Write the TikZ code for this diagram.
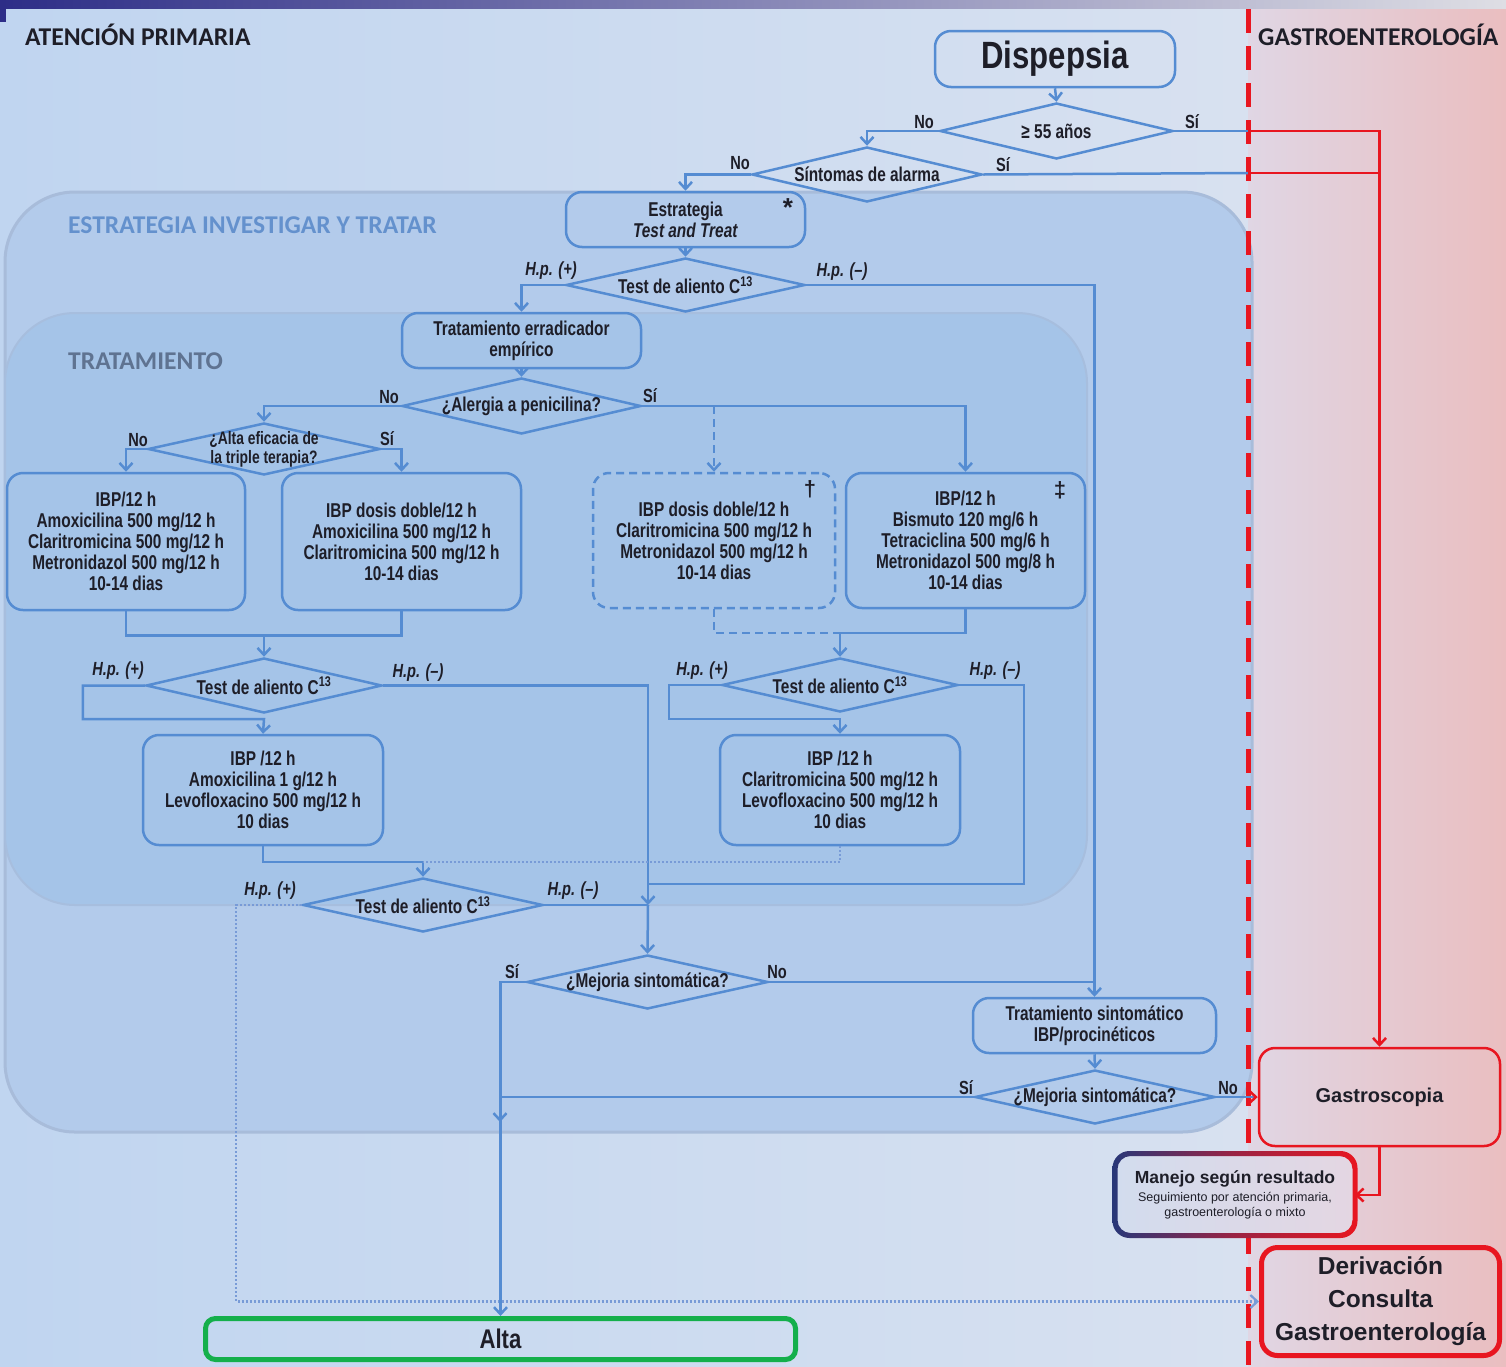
\documentclass[tikz,border=0pt]{standalone}
\usepackage{fontspec}
\setmainfont{Liberation Sans}
\newfontfamily\nar[FakeStretch=0.77]{Liberation Sans}
\newfontfamily\narB[FakeStretch=0.82]{Liberation Sans}
\newfontfamily\carl{Carlito}
\usetikzlibrary{shapes.geometric,arrows.meta}
\definecolor{ln}{RGB}{85,140,210}
\definecolor{lnd}{RGB}{120,155,215}
\definecolor{bgA}{RGB}{192,213,240}
\definecolor{bgB}{RGB}{216,225,240}
\definecolor{bgC}{RGB}{224,214,228}
\definecolor{bgD}{RGB}{234,190,192}
\definecolor{regA}{RGB}{179,203,235}
\definecolor{regE}{RGB}{168,188,218}
\definecolor{regB}{RGB}{165,196,232}
\definecolor{rd}{RGB}{232,22,32}
\definecolor{gr}{RGB}{20,175,75}
\definecolor{navy}{RGB}{40,55,120}
\definecolor{txt}{RGB}{30,30,40}
\definecolor{topA}{RGB}{45,45,135}
\definecolor{topB}{RGB}{222,222,228}
\definecolor{sec}{RGB}{100,145,205}
\definecolor{secb}{RGB}{95,115,145}
\definecolor{manL}{RGB}{210,220,238}
\definecolor{manR}{RGB}{228,214,226}
\begin{document}
\begin{tikzpicture}[x=1pt,y=-1pt,
  box/.style={draw=ln, line width=2.5pt, rounded corners=16pt, align=center,
    font=\nar\bfseries\fontsize{20}{21}\selectfont, text=txt, inner sep=0pt},
  dia/.style={diamond, draw=ln, line width=2.5pt, inner sep=0pt},
  dtxt/.style={font=\nar\bfseries\fontsize{20}{21}\selectfont, text=txt, align=center},
  lab/.style={font=\nar\bfseries\fontsize{19}{20}\selectfont, text=txt, inner sep=0pt},
  hp/.style={font=\nar\bfseries\itshape\fontsize{19}{20}\selectfont, text=txt, inner sep=0pt},
  tip/.tip={Straight Barb[length=7pt,width=13pt]},
  plain/.style={draw=ln, line width=2.5pt},
  conn/.style={draw=ln, line width=2.5pt, -tip},
  rplain/.style={draw=rd, line width=2.5pt},
  rconn/.style={draw=rd, line width=2.5pt, -tip},
  dotl/.style={draw=lnd, line width=2.2pt, dash pattern=on 2pt off 2pt},
  seclab/.style={font=\carl\bfseries\fontsize{25.6}{27}\selectfont, anchor=west, inner sep=0pt}
]
\useasboundingbox (0,0) rectangle (1506,1366);
% background
\shade[left color=bgA, right color=bgB] (0,0) rectangle (1248,1366);
\shade[left color=bgC, right color=bgD] (1248,0) rectangle (1506,1366);
\shade[left color=topA, right color=topB] (0,0) rectangle (1506,8);
\fill[topA] (0,0) rectangle (6,22);
% regions
\draw[draw=regE, line width=3pt, fill=regA, rounded corners=70pt] (5,192) rectangle (1252,1132);
\draw[draw=regE!70!regB, line width=2pt, fill=regB, rounded corners=70pt] (5,313) rectangle (1087,905);
% section labels
\node[seclab, text=txt] (lap) at (25,35) {ATENCIÓN PRIMARIA};
\node[seclab, text=txt] (lgas) at (1258,35) {GASTROENTEROLOGÍA};
\node[seclab, text=sec] (lest) at (68,225) {ESTRATEGIA INVESTIGAR Y TRATAR};
\node[seclab, text=secb] (ltra) at (68,361) {TRATAMIENTO};
% red dashed separator
\coordinate (sepT) at (1248,9);
\coordinate (sepB) at (1248,1366);
\draw[rd, line width=5pt, dash pattern=on 24pt off 13pt] (sepT) -- (sepB);

% boxes
\node[box, minimum width=240, minimum height=56, font=\narB\bfseries\fontsize{38}{40}\selectfont] (dis) at (1055,59) {Dispepsia};
\node[box, minimum width=239, minimum height=55] (est) at (685.5,219.5) {Estrategia\\\textit{Test and Treat}};
\node[font=\bfseries\fontsize{26}{26}\selectfont, text=txt, inner sep=0pt] (ast) at (788,208) {*};
\node[box, minimum width=239, minimum height=55] (ter) at (521.5,340.5) {Tratamiento erradicador\\empírico};
\node[box, minimum width=238, minimum height=137] (b1) at (126,541.5) {IBP/12 h\\Amoxicilina 500 mg/12 h\\Claritromicina 500 mg/12 h\\Metronidazol 500 mg/12 h\\10-14 dias};
\node[box, minimum width=239, minimum height=137] (b2) at (401.5,541.5) {IBP dosis doble/12 h\\Amoxicilina 500 mg/12 h\\Claritromicina 500 mg/12 h\\10-14 dias};
\node[box, dash pattern=on 8pt off 5pt, minimum width=242, minimum height=135] (b3) at (714,540.5) {IBP dosis doble/12 h\\Claritromicina 500 mg/12 h\\Metronidazol 500 mg/12 h\\10-14 dias};
\node[font=\bfseries\fontsize{22}{22}\selectfont, text=txt, inner sep=0pt] (dag) at (810,489) {†};
\node[box, minimum width=239, minimum height=135] (b4) at (965.5,540.5) {IBP/12 h\\Bismuto 120 mg/6 h\\Tetraciclina 500 mg/6 h\\Metronidazol 500 mg/8 h\\10-14 dias};
\node[font=\bfseries\fontsize{22}{22}\selectfont, text=txt, inner sep=0pt] (ddag) at (1060,490) {‡};
\node[box, minimum width=240, minimum height=110] (b5) at (263,790) {IBP /12 h\\Amoxicilina 1 g/12 h\\Levofloxacino 500 mg/12 h\\10 dias};
\node[box, minimum width=240, minimum height=110] (b6) at (840,790) {IBP /12 h\\Claritromicina 500 mg/12 h\\Levofloxacino 500 mg/12 h\\10 dias};
\node[box, minimum width=243, minimum height=55] (sin) at (1094.5,1025.5) {Tratamiento sintomático\\IBP/procinéticos};
\node[box, draw=rd, minimum width=241, minimum height=98, font=\bfseries\fontsize{20}{23}\selectfont] (gas) at (1379.5,1097) {Gastroscopia};
\node[box, draw=rd, line width=5pt, minimum width=238, minimum height=108, font=\bfseries\fontsize{24.5}{33}\selectfont] (der) at (1380.5,1301.5) {Derivación\\Consulta\\Gastroenterología};
\node[box, draw=gr, line width=5pt, rounded corners=10pt, minimum width=590, minimum height=41, font=\narB\bfseries\fontsize{27}{28}\selectfont] (alta) at (500.5,1339) {Alta};
% Manejo box with gradient border and fill
\shade[left color=manL, right color=manR, rounded corners=14pt] (1115,1153.5) rectangle (1355,1235.5);
\path[left color=navy, right color=rd, middle color=rd!60!navy, even odd rule]
  [rounded corners=17pt] (1112.5,1151) rectangle (1357.5,1238)
  [rounded corners=13pt] (1117.5,1156) rectangle (1352.5,1233);
\node[align=center, inner sep=0pt, minimum width=239, minimum height=82, text=txt,
  font=\fontsize{12.5}{15.5}\selectfont] (man) at (1235,1195)
  {{\bfseries\fontsize{17.5}{20}\selectfont Manejo según resultado}\\[2pt]
   Seguimiento por atención primaria,\\
   gastroenterología o mixto};

% diamonds
\node[dia, minimum width=233, minimum height=56, label={[dtxt]center:≥ 55 años}] (d55) at (1056.5,131) {};
\node[dia, minimum width=230, minimum height=55, label={[dtxt]center:Síntomas de alarma}] (dsa) at (867,174.5) {};
\node[dia, minimum width=239, minimum height=54, label={[dtxt]center:Test de aliento C\textsuperscript{13}}] (t1) at (685.5,285) {};
\node[dia, minimum width=239, minimum height=56, label={[dtxt]center:¿Alergia a penicilina?}] (ale) at (521.5,406) {};
\node[dia, minimum width=232, minimum height=52, label={[dtxt, font=\nar\bfseries\fontsize{18}{19}\selectfont]center:¿Alta eficacia de\\la triple terapia?}] (efi) at (264,449) {};
\node[dia, minimum width=236, minimum height=55, label={[dtxt]center:Test de aliento C\textsuperscript{13}}] (tl) at (264,685.5) {};
\node[dia, minimum width=236, minimum height=54, label={[dtxt]center:Test de aliento C\textsuperscript{13}}] (tr) at (840,685) {};
\node[dia, minimum width=240, minimum height=54, label={[dtxt]center:Test de aliento C\textsuperscript{13}}] (tb) at (423,905) {};
\node[dia, minimum width=241, minimum height=54, label={[dtxt]center:¿Mejoria sintomática?}] (m1) at (647.5,982) {};
\node[dia, minimum width=240, minimum height=54, label={[dtxt]center:¿Mejoria sintomática?}] (m2) at (1095,1097) {};

% coordinates
\coordinate (r1) at (1248,131);
\coordinate (r2) at (1248,173);
\coordinate (r2e) at (1380,173);
\coordinate (ad) at (714,406);
\coordinate (j1) at (264,634);
\coordinate (j2) at (840,633);
\coordinate (j3) at (648,905);
\coordinate (j4) at (648,884);
\coordinate (j5) at (423,862);
\coordinate (j6) at (1095,982);
\coordinate (j7) at (500,1097);
\coordinate (j7e) at (500,1122);

% connectors
\draw[conn] (dis.south) -- (d55.north);
\draw[conn] (d55.west) -| (dsa.north);
\draw[plain] (d55.east) -- (r1);
\draw[rconn] (r1) -| (gas.north);
\draw[plain] (dsa.east) -- (r2);
\draw[rplain] (r2) -- (r2e);
\draw[conn] (dsa.west) -| (est.north);
\draw[conn] (est.south) -- (t1.north);
\draw[conn] (t1.west) -| (ter.north);
\draw[conn] (t1.east) -| (sin.north);
\draw[conn] (ter.south) -- (ale.north);
\draw[conn] (ale.west) -| (efi.north);
\draw[conn] (ale.east) -| (b4.north);
\draw[conn, dash pattern=on 8pt off 5pt] (ad) -- (b3.north);
\draw[conn] (efi.west) -| (b1.north);
\draw[conn] (efi.east) -| (b2.north);
\draw[plain] (b1.south) -- ++(0,24) -| (b2.south);
\draw[conn] (j1) -- (tl.north);
\draw[conn] (b4.south) |- (j2) -- (tr.north);
\draw[plain, dash pattern=on 8pt off 5pt] (b3.south) |- (j2);
\draw[conn] (tl.west) -- ++(-62,0) |- (264,719) -- (b5.north);
\draw[conn] (tl.east) -| (j3);
\draw[conn] (tr.west) -- ++(-52,0) |- (840,719) -- (b6.north);
\draw[plain] (tr.east) -| (1024,884) -- (j4);
\draw[conn] (b5.south) |- (j5) -- (tb.north);
\draw[dotl] (b6.south) |- (j5);
\draw[plain] (tb.east) -- (j3);
\draw[conn] (j3) -- (m1.north);
\draw[dotl, -tip] (tb.west) -- (236,905) |- (der.west);
\draw[conn] (m1.west) -| (alta.north);
\draw[plain] (m1.east) -- (j6);
\draw[conn] (sin.south) -- (m2.north);
\draw[conn] (m2.west) -- (j7) -- (j7e);
\draw[plain, -{Straight Barb[length=7pt,width=13pt,color=rd]}] (m2.east) -- (gas.west);
\draw[rconn] (gas.south) |- (man.east);

% branch labels
\node[lab] (l1) at (924,122) {No};
\node[lab] (l2) at (1192,122) {Sí};
\node[lab] (l3) at (740,163) {No};
\node[lab] (l4) at (1003,165) {Sí};
\node[hp] (l5) at (551,271) {H.p. (+)};
\node[hp] (l6) at (842,272) {H.p. (–)};
\node[lab] (l7) at (389,397) {No};
\node[lab] (l8) at (650,396) {Sí};
\node[lab] (l9) at (138,440) {No};
\node[lab] (l10) at (387,439) {Sí};
\node[hp] (l11) at (118,671) {H.p. (+)};
\node[hp] (l12) at (418,673) {H.p. (–)};
\node[hp] (l13) at (702,671) {H.p. (+)};
\node[hp] (l14) at (995,671) {H.p. (–)};
\node[hp] (l15) at (270,891) {H.p. (+)};
\node[hp] (l16) at (573,891) {H.p. (–)};
\node[lab] (l17) at (512,972) {Sí};
\node[lab] (l18) at (777,972) {No};
\node[lab] (l19) at (966,1088) {Sí};
\node[lab] (l20) at (1228,1088) {No};
\end{tikzpicture}
\end{document}
